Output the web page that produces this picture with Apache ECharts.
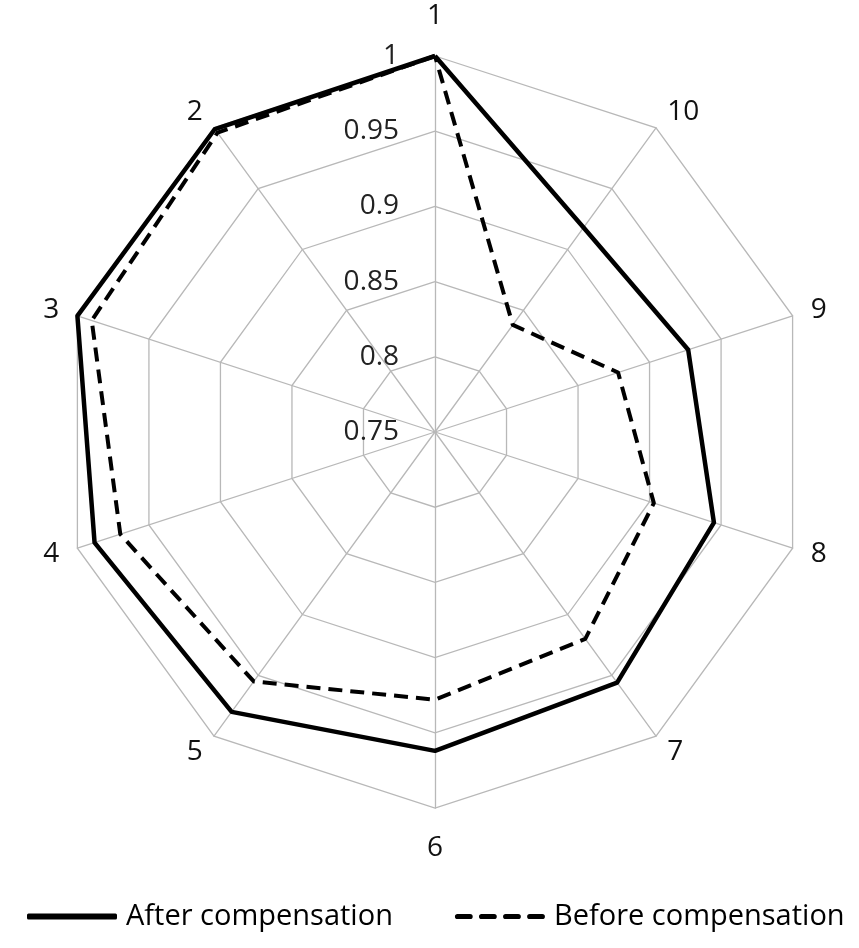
<!DOCTYPE html>
<html>
<head>
<meta charset="utf-8">
<script src="https://cdn.jsdelivr.net/npm/echarts@6/dist/echarts.min.js"></script>
<style>
  html, body { margin: 0; padding: 0; background: #fff; }
  #chart { width: 859px; height: 948px; }
</style>
</head>
<body>
<div id="chart"></div>
<script>
// axes 1..10, counter-clockwise from the top
const axisNames = ['1', '2', '3', '4', '5', '6', '7', '8', '9', '10'];
const afterComp = [1.0, 0.999, 1.0, 0.988, 0.980, 0.962, 0.956, 0.945, 0.927, 0.918];
const beforeComp = [1.0, 0.996, 0.990, 0.970, 0.955, 0.928, 0.920, 0.903, 0.878, 0.838];
const scaleMin = 0.75;
const scaleMax = 1;

const FONT = '"Open Sans", "Liberation Sans", sans-serif';

const chart = echarts.init(document.getElementById('chart'));

// rounded dash used for the legend icon of the dashed series
const dash = x => `M${x + 2.5},0h12a2.5,2.5 0 0 1 0,5h-12a2.5,2.5 0 0 1 0,-5z`;

const indicators = axisNames.map((n, i) => {
    const ind = { name: n, min: scaleMin, max: scaleMax };
    // tick labels only along the first axis
    if (i === 0) ind.axisLabel = { show: true };
    // top and bottom names sit a bit further out than the side ones
    if (i === 0 || i === 5) ind.nameGap = 26;
    return ind;
});

chart.setOption({
    animation: false,
    legend: {
        bottom: 12,
        left: 22,
        itemWidth: 90,
        itemHeight: 6,
        itemGap: 62,
        itemStyle: { borderWidth: 0 },
        textStyle: { fontFamily: FONT, fontSize: 29, color: '#000', padding: [0, 0, 0, 4] },
        data: [
            { name: 'After compensation', icon: 'roundRect' },
            { name: 'Before compensation', icon: 'path://' + [0, 23, 46, 69].map(dash).join('') },
        ],
    },
    radar: {
        center: [435, 432],
        radius: 376,
        startAngle: 90,
        splitNumber: 5,
        shape: 'polygon',
        indicator: indicators,
        nameGap: 19,
        axisName: { color: '#111', fontFamily: FONT, fontSize: 28 },
        axisLine: { lineStyle: { color: '#b8b8b8', width: 1.3 } },
        splitLine: { lineStyle: { color: '#b8b8b8', width: 1.3 } },
        splitArea: { show: false },
        axisTick: { show: false },
        axisLabel: {
            show: false,
            margin: 36,
            color: '#222',
            fontFamily: FONT,
            fontSize: 28,
            formatter: v => String(+Number(v).toFixed(2)),
        },
    },
    series: [
        {
            name: 'Before compensation',
            type: 'radar',
            symbol: 'none',
            itemStyle: { color: '#000' },
            lineStyle: { color: '#000', width: 4, type: [14, 8] },
            data: [{ value: beforeComp, name: 'Before compensation' }],
        },
        {
            name: 'After compensation',
            type: 'radar',
            symbol: 'none',
            itemStyle: { color: '#000' },
            lineStyle: { color: '#000', width: 4.5 },
            data: [{ value: afterComp, name: 'After compensation' }],
        },
    ],
});
</script>
</body>
</html>
